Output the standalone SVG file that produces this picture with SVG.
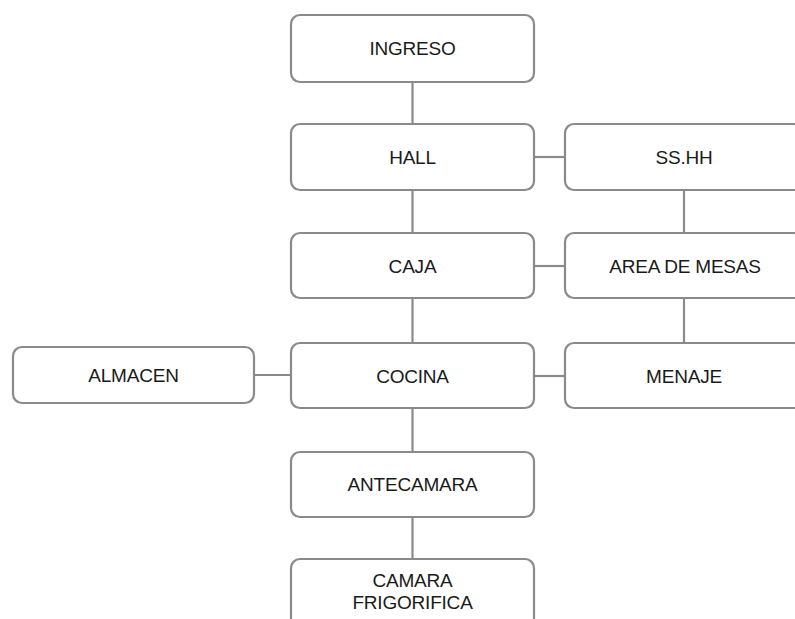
<svg xmlns="http://www.w3.org/2000/svg" width="795" height="619" viewBox="0 0 795 619">
  <style>
    .box { fill: #ffffff; stroke: #8a8a8a; stroke-width: 2.2; }
    .lbl { font-family: "Liberation Sans", Arial, sans-serif; font-size: 19px; fill: #1a1a1a; text-anchor: middle; dominant-baseline: central; letter-spacing: -0.2px; }
    .link { stroke: #8a8a8a; stroke-width: 2.2; fill: none; }
  </style>
  <rect width="795" height="619" fill="#ffffff"/>

  <!-- connectors -->
  <g id="connectors">
    <line class="link" x1="412.5" y1="82" x2="412.5" y2="124"/>
    <line class="link" x1="412.5" y1="190" x2="412.5" y2="233"/>
    <line class="link" x1="412.5" y1="298" x2="412.5" y2="343"/>
    <line class="link" x1="412.5" y1="408" x2="412.5" y2="452"/>
    <line class="link" x1="412.5" y1="517" x2="412.5" y2="559"/>
    <line class="link" x1="684" y1="190" x2="684" y2="233"/>
    <line class="link" x1="684" y1="298" x2="684" y2="343"/>
    <line class="link" x1="534" y1="157" x2="565" y2="157"/>
    <line class="link" x1="534" y1="266" x2="565" y2="266"/>
    <line class="link" x1="534" y1="376" x2="565" y2="376"/>
    <line class="link" x1="254" y1="375" x2="291" y2="375"/>
  </g>

  <g id="ingreso">
    <rect class="box" x="291" y="15" width="243" height="67" rx="9"/>
    <text class="lbl" x="412.5" y="48.5">INGRESO</text>
  </g>
  <g id="hall">
    <rect class="box" x="291" y="124" width="243" height="66" rx="9"/>
    <text class="lbl" x="412.5" y="157">HALL</text>
  </g>
  <g id="sshh">
    <rect class="box" x="565" y="124" width="238" height="66" rx="9"/>
    <text class="lbl" x="684" y="157">SS.HH</text>
  </g>
  <g id="caja">
    <rect class="box" x="291" y="233" width="243" height="65" rx="9"/>
    <text class="lbl" x="412.5" y="266">CAJA</text>
  </g>
  <g id="area-de-mesas">
    <rect class="box" x="565" y="233" width="238" height="65" rx="9"/>
    <text class="lbl" x="685" y="266">AREA DE MESAS</text>
  </g>
  <g id="almacen">
    <rect class="box" x="13" y="347" width="241" height="56" rx="9"/>
    <text class="lbl" x="133.5" y="375">ALMACEN</text>
  </g>
  <g id="cocina">
    <rect class="box" x="291" y="343" width="243" height="65" rx="9"/>
    <text class="lbl" x="412.5" y="376">COCINA</text>
  </g>
  <g id="menaje">
    <rect class="box" x="565" y="343" width="238" height="65" rx="9"/>
    <text class="lbl" x="684" y="376">MENAJE</text>
  </g>
  <g id="antecamara">
    <rect class="box" x="291" y="452" width="243" height="65" rx="9"/>
    <text class="lbl" x="412.5" y="484.5">ANTECAMARA</text>
  </g>
  <g id="camara-frigorifica">
    <rect class="box" x="291" y="559" width="243" height="70" rx="9"/>
    <text class="lbl" x="412.5" y="580">CAMARA</text>
    <text class="lbl" x="412.5" y="602">FRIGORIFICA</text>
  </g>
</svg>
